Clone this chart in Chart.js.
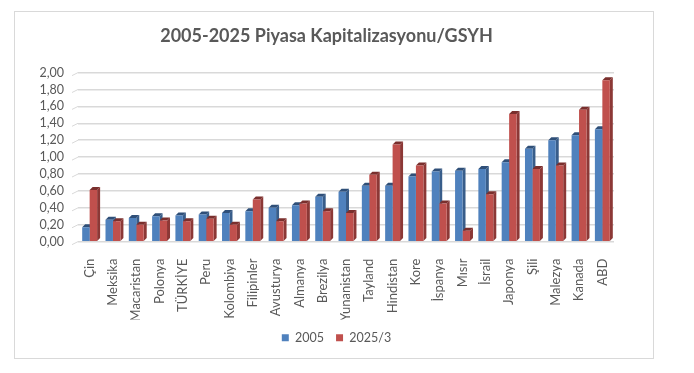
<!DOCTYPE html>
<html>
<head>
<meta charset="utf-8">
<script src="https://cdn.jsdelivr.net/npm/chart.js@4.4.0/dist/chart.umd.min.js"></script>
<style>
  html, body { margin: 0; padding: 0; background: #fff; }
  #box {
    position: absolute; left: 14px; top: 11px;
    width: 638px; height: 346px;
    border: 1px solid #d9d9d9;
  }
</style>
</head>
<body>
<div id="box"><canvas id="chart-bar"></canvas></div>
<script>
var ulkeler = ["Çin", "Meksika", "Macaristan", "Polonya", "TÜRKİYE", "Peru", "Kolombiya", "Filipinler",
  "Avusturya", "Almanya", "Brezilya", "Yunanistan", "Tayland", "Hindistan", "Kore", "İspanya",
  "Mısır", "İsrail", "Japonya", "Şili", "Malezya", "Kanada", "ABD"];

var deger2005 = [0.17, 0.26, 0.28, 0.30, 0.31, 0.32, 0.34, 0.36,
  0.40, 0.43, 0.53, 0.59, 0.66, 0.66, 0.77, 0.83,
  0.84, 0.86, 0.94, 1.10, 1.20, 1.26, 1.33];

var deger2025 = [0.61, 0.24, 0.20, 0.25, 0.24, 0.27, 0.20, 0.50,
  0.24, 0.45, 0.36, 0.34, 0.79, 1.15, 0.90, 0.45,
  0.13, 0.56, 1.51, 0.86, 0.90, 1.56, 1.91];

var yTicks = [0, 0.2, 0.4, 0.6, 0.8, 1.0, 1.2, 1.4, 1.6, 1.8, 2.0];

var gri = "#595959";
var derinlik = 3;

// excel tarzi 3B gorunum: yan ve ust yuzler
var ucBoyut = {
  id: "ucBoyut",
  afterLayout: function(chart) {
    // legend biraz saga
    chart.legend.left += 10;
    chart.legend.right += 10;
  },
  beforeDatasetsDraw: function(chart) {
    var ctx = chart.ctx;
    var yan = ["#385d8a", "#8c3836"];
    var ust = ["#2f4f78", "#7a2f2d"];
    chart.data.datasets.forEach(function(ds, i) {
      var meta = chart.getDatasetMeta(i);
      meta.data.forEach(function(bar) {
        var sag = bar.x + bar.width / 2;
        var sol = bar.x - bar.width / 2;
        ctx.save();
        ctx.fillStyle = yan[i];
        ctx.beginPath();
        ctx.moveTo(sag, bar.y);
        ctx.lineTo(sag + derinlik, bar.y - derinlik);
        ctx.lineTo(sag + derinlik, bar.base - derinlik);
        ctx.lineTo(sag, bar.base);
        ctx.closePath();
        ctx.fill();
        ctx.fillStyle = ust[i];
        ctx.beginPath();
        ctx.moveTo(sol, bar.y);
        ctx.lineTo(sol + derinlik, bar.y - derinlik);
        ctx.lineTo(sag + derinlik, bar.y - derinlik);
        ctx.lineTo(sag, bar.y);
        ctx.closePath();
        ctx.fill();
        ctx.restore();
      });
    });
    // izgara cizgilerinin sol egik ucu
    var y = chart.scales.y;
    var left = chart.chartArea.left;
    ctx.save();
    ctx.strokeStyle = "#d9d9d9";
    ctx.lineWidth = 1;
    yTicks.forEach(function(t) {
      var py = y.getPixelForValue(t);
      ctx.beginPath();
      ctx.moveTo(left - 6, py + 3);
      ctx.lineTo(left, py);
      ctx.stroke();
    });
    ctx.restore();
  }
};

new Chart(document.getElementById("chart-bar").getContext("2d"), {
  type: "bar",
  data: {
    labels: ulkeler,
    datasets: [{
      label: "2005",
      backgroundColor: "#4f81bd",
      data: deger2005,
      categoryPercentage: 0.64,
      barPercentage: 1.0
    }, {
      label: "2025/3",
      backgroundColor: "#c0504d",
      data: deger2025,
      categoryPercentage: 0.64,
      barPercentage: 1.0
    }]
  },
  plugins: [ucBoyut],
  options: {
    responsive: true,
    maintainAspectRatio: false,
    animation: false,
    layout: { padding: { left: 24, right: 39, top: 0, bottom: 4 } },
    plugins: {
      title: {
        display: true,
        text: "2005-2025 Piyasa Kapitalizasyonu/GSYH",
        color: gri,
        font: { family: "Lato", size: 18, weight: "bold" },
        padding: { top: 13, bottom: 26 }
      },
      legend: {
        position: "bottom",
        labels: {
          color: gri,
          font: { family: "Lato", size: 12.5 },
          boxWidth: 7,
          boxHeight: 7,
          padding: 12
        }
      },
      tooltip: { enabled: false }
    },
    scales: {
      x: {
        grid: { display: false },
        border: { display: false },
        ticks: {
          color: gri,
          font: { family: "Lato", size: 13 },
          maxRotation: 90,
          minRotation: 90,
          autoSkip: false,
          padding: 9
        },
        afterFit: function(s) { s.height = s.height - 11; }
      },
      y: {
        min: 0,
        max: 2,
        afterBuildTicks: function(s) {
          s.ticks = yTicks.map(function(v) { return { value: v }; });
        },
        grid: { color: "#d9d9d9", lineWidth: 1.5, drawTicks: false },
        border: { display: false },
        ticks: {
          color: gri,
          font: { family: "Lato", size: 12.5 },
          padding: 14,
          autoSkip: false,
          callback: function(v) { return v.toFixed(2).replace(".", ","); }
        },
        afterFit: function(s) { s.width = 39; }
      }
    }
  }
});
</script>
</body>
</html>
